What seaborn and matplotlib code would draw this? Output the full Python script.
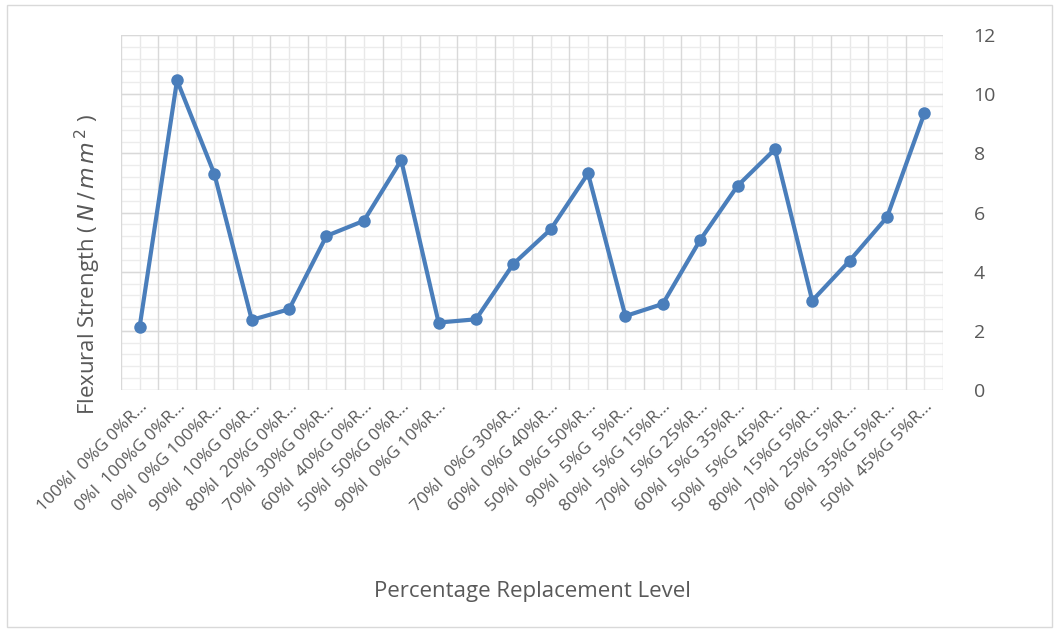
import numpy as np
import pandas as pd
import seaborn as sns
import matplotlib.pyplot as plt
from matplotlib.ticker import MultipleLocator, FixedLocator
from matplotlib.patches import Rectangle

# mix labels (Excel truncated them with an ellipsis; one label is empty)
mix_labels = [
    "100%I  0%G 0%R…", "0%I  100%G 0%R…", "0%I  0%G 100%R…",
    "90%I  10%G 0%R…", "80%I  20%G 0%R…", "70%I  30%G 0%R…",
    "60%I  40%G 0%R…", "50%I  50%G 0%R…", "90%I  0%G 10%R…",
    "", "70%I  0%G 30%R…", "60%I  0%G 40%R…",
    "50%I  0%G 50%R…", "90%I  5%G  5%R…", "80%I  5%G 15%R…",
    "70%I  5%G 25%R…", "60%I  5%G 35%R…", "50%I  5%G 45%R…",
    "80%I  15%G 5%R…", "70%I  25%G 5%R…", "60%I  35%G 5%R…",
    "50%I  45%G 5%R…",
]
flexural_strength = [
    2.14, 10.47, 7.30, 2.37, 2.73, 5.21, 5.72, 7.77, 2.28,
    2.39, 4.26, 5.43, 7.32, 2.50, 2.91, 5.07, 6.90, 8.14,
    3.02, 4.37, 5.84, 9.35,
]

df = pd.DataFrame({"pos": np.arange(len(mix_labels)), "strength": flexural_strength})

sns.set_style("white")
plt.rcParams["font.family"] = ["Open Sans", "DejaVu Sans"]
text_color = "#595959"
line_color = "#4A7EBB"

fig = plt.figure(figsize=(10.64, 6.39), dpi=100)
ax = fig.add_axes([0.1137, 0.3897, 0.7726, 0.5554])

sns.lineplot(data=df, x="pos", y="strength", ax=ax, color=line_color,
             linewidth=3, marker="o", markersize=9, markeredgewidth=0, zorder=3)

n = len(mix_labels)
ax.set_xlim(-0.5, n - 0.5)
ax.set_ylim(0, 12)

# grid: major lines at category edges / every 2, minor at centres / every 0.4
ax.grid(False)
for xv in np.arange(n + 1) - 0.5:
    ax.axvline(xv, color="#d9d9d9", lw=1, zorder=1)
for xv in np.arange(n):
    ax.axvline(xv, color="#e8e8e8", lw=1, zorder=0.5)
for yv in np.arange(0, 12.01, 2):
    ax.axhline(yv, color="#d9d9d9", lw=1, zorder=1)
for yv in np.arange(0, 12.01, 0.4):
    ax.axhline(yv, color="#ececec", lw=1, zorder=0.5)

for s in ax.spines.values():
    s.set_visible(False)

ax.yaxis.set_major_locator(MultipleLocator(2))
ax.yaxis.tick_right()
ax.tick_params(axis="y", which="both", length=0, pad=22, labelsize=14, labelcolor=text_color)
ax.tick_params(axis="x", which="both", length=0, pad=6, labelsize=12.5, labelcolor=text_color)
ax.set_xticks(np.arange(n))
ax.set_xticklabels(mix_labels, rotation=45, ha="right", rotation_mode="anchor")

ax.set_xlabel("")
ax.set_ylabel("")
fig.text(0.5, 1 - 591 / 639, "Percentage Replacement Level", ha="center", va="center",
         fontsize=16, color=text_color)
fig.text(88 / 1064, 1 - 265 / 639, r"Flexural Strength ( $N\,/\,m\,m^{\,2}$ )", rotation=90,
         ha="center", va="center", fontsize=16, color=text_color)

# outer chart frame
fig.patches.append(Rectangle((7 / 1064, 12 / 639), 1045 / 1064, 622 / 639,
                             transform=fig.transFigure, fill=False,
                             edgecolor="#d9d9d9", lw=1))

fig.savefig("out.png", dpi=100)
